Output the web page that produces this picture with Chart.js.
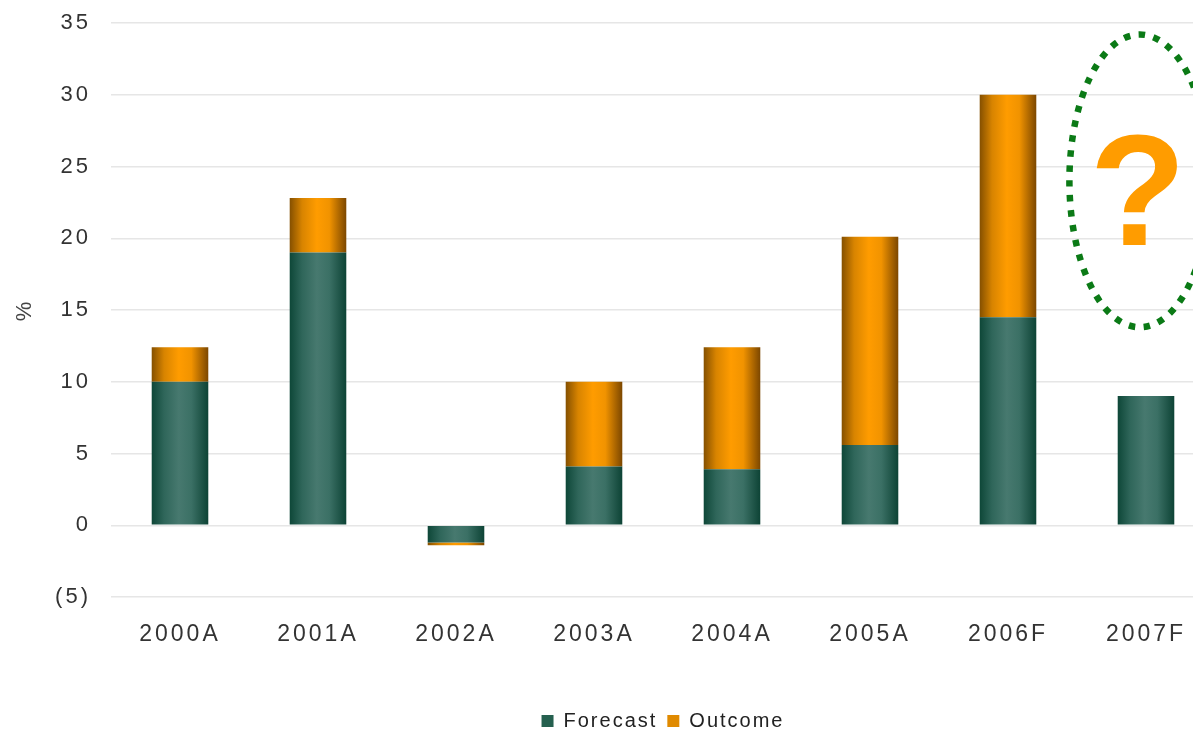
<!DOCTYPE html>
<html lang="en">
<head>
<meta charset="UTF-8">
<title>Forecast vs Outcome</title>
<style>
  html, body { margin: 0; padding: 0; background: #fff; overflow: hidden; }
  .wrap { position: absolute; left: 0; top: 0; width: 1215px; height: 732px; }
</style>
</head>
<body>
<div class="wrap">
  <canvas id="grafico"></canvas>
</div>
<script src="https://cdn.jsdelivr.net/npm/chart.js"></script>
<script>
  // categories and stacked segments (%)
  const anos = ['2000A', '2001A', '2002A', '2003A', '2004A', '2005A', '2006F', '2007F'];
  const forecast = [10.0, 19.0, -1.2, 4.1, 3.9, 5.6, 14.5, 9.0];
  const outcome = [2.4, 3.8, -0.2, 5.9, 8.5, 14.5, 15.5, null];
  const yTicks = [-5, 0, 5, 10, 15, 20, 25, 30, 35];

  // question mark callout over 2007F (values on the y axis)
  const calloutIndex = 7;
  const calloutTop = 34.2;
  const calloutBottom = 13.8;
  const calloutQuestionBase = 19.5;

  const barPct = 0.41;

  // gradient stops: dark edges, lighter middle
  const verde = ['#0e4738', '#2f665a', '#47796f', '#3b7065', '#0d4335'];
  const laranja = ['#855000', '#d88400', '#ff9c00', '#f19300', '#7c4700'];
  const corLegenda = ['#25604f', '#e08a00'];

  function gradienteBarra(cores) {
    return function (c) {
      const chart = c.chart;
      if (!chart.chartArea || c.type !== 'data') return cores[2];
      const xs = chart.scales.x;
      const cx = xs.getPixelForValue(c.dataIndex);
      const w = (xs.width / anos.length) * barPct;
      const g = chart.ctx.createLinearGradient(cx - w / 2, 0, cx + w / 2, 0);
      g.addColorStop(0, cores[0]);
      g.addColorStop(0.22, cores[1]);
      g.addColorStop(0.48, cores[2]);
      g.addColorStop(0.7, cores[3]);
      g.addColorStop(1, cores[4]);
      return g;
    };
  }

  // wide tracking on the axis text, tighter on the legend
  function comEspaco(obj, nome, valor) {
    const orig = obj[nome];
    obj[nome] = function (...args) {
      const c = this.ctx;
      const antes = c.letterSpacing;
      c.letterSpacing = valor;
      const r = orig.apply(this, args);
      c.letterSpacing = antes;
      return r;
    };
  }

  const espacamento = {
    id: 'espacamento',
    beforeUpdate(chart) {
      chart.ctx.letterSpacing = '3px';
      const lg = chart.legend;
      if (lg && !lg._espaco) {
        lg._espaco = true;
        comEspaco(lg, 'fit', '2px');
        comEspaco(lg, 'draw', '2px');
      }
    },
    beforeDraw(chart) { chart.ctx.letterSpacing = '3px'; }
  };

  // dotted ellipse with the question mark
  const destaque = {
    id: 'destaque',
    afterDatasetsDraw(chart) {
      const ctx = chart.ctx;
      const xs = chart.scales.x;
      const ys = chart.scales.y;
      const passo = xs.width / anos.length;
      const cx = xs.getPixelForValue(calloutIndex) - passo * 0.045;
      const top = ys.getPixelForValue(calloutTop);
      const bottom = ys.getPixelForValue(calloutBottom);
      const cy = (top + bottom) / 2;
      const ry = (bottom - top) / 2;
      const rx = passo * 0.51;

      ctx.save();
      ctx.letterSpacing = '0px';
      ctx.beginPath();
      ctx.ellipse(cx, cy, rx, ry, 0, 0, Math.PI * 2);
      ctx.strokeStyle = '#0b7a16';
      ctx.lineWidth = 6.5;
      ctx.setLineDash([6.5, 8.5]);
      ctx.stroke();

      ctx.setLineDash([]);
      ctx.fillStyle = '#ff9c00';
      ctx.font = 'bold 158px "Liberation Sans", Arial, sans-serif';
      ctx.textAlign = 'center';
      ctx.textBaseline = 'alphabetic';
      ctx.fillText('?', cx - 2, ys.getPixelForValue(calloutQuestionBase));
      ctx.restore();
    }
  };

  Chart.defaults.font.family = '"Liberation Sans", Arial, sans-serif';
  Chart.defaults.color = '#333';

  const ctx1 = document.getElementById('grafico');

  const chart1 = new Chart(ctx1, {
    type: 'bar',
    data: {
      labels: anos,
      datasets: [{
        label: 'Forecast',
        data: forecast,
        backgroundColor: gradienteBarra(verde),
        borderWidth: 0
      }, {
        label: 'Outcome',
        data: outcome,
        backgroundColor: gradienteBarra(laranja),
        borderWidth: 0
      }]
    },
    options: {
      responsive: true,
      maintainAspectRatio: false,
      animation: false,
      datasets: {
        bar: { categoryPercentage: 1, barPercentage: barPct }
      },
      layout: {
        padding: { top: 23, left: 0, right: 0, bottom: -9 }
      },
      scales: {
        x: {
          stacked: true,
          grid: { display: false },
          border: { display: false },
          ticks: {
            padding: 16,
            font: { size: 23 },
            color: '#333'
          },
          afterFit(scale) { scale.height = 104; }
        },
        y: {
          stacked: true,
          min: -5,
          max: 35,
          afterBuildTicks(scale) {
            scale.ticks = yTicks.map(v => ({ value: v }));
          },
          grid: {
            color: '#e6e6e6',
            lineWidth: 1.5,
            drawTicks: false
          },
          border: { display: false },
          ticks: {
            padding: 20,
            font: { size: 22 },
            color: '#333',
            callback: v => v < 0 ? '(' + Math.abs(v) + ')' : v
          },
          title: {
            display: true,
            text: '%',
            font: { size: 22 },
            color: '#444',
            padding: { top: 12, bottom: 0 }
          },
          afterFit(scale) {
            scale.width = 111;
            scale.paddingTop = 12;
            scale.paddingBottom = 12;
          }
        }
      },
      plugins: {
        legend: {
          position: 'bottom',
          fullSize: false,
          labels: {
            boxWidth: 12,
            boxHeight: 12,
            padding: 10,
            color: '#222',
            font: { size: 20 },
            generateLabels(chart) {
              const itens = Chart.defaults.plugins.legend.labels.generateLabels(chart);
              itens.forEach((it, i) => {
                it.fillStyle = corLegenda[i];
                it.strokeStyle = corLegenda[i];
                it.lineWidth = 0;
              });
              return itens;
            }
          }
        },
        tooltip: { enabled: false }
      }
    },
    plugins: [espacamento, destaque]
  });
</script>
</body>
</html>
